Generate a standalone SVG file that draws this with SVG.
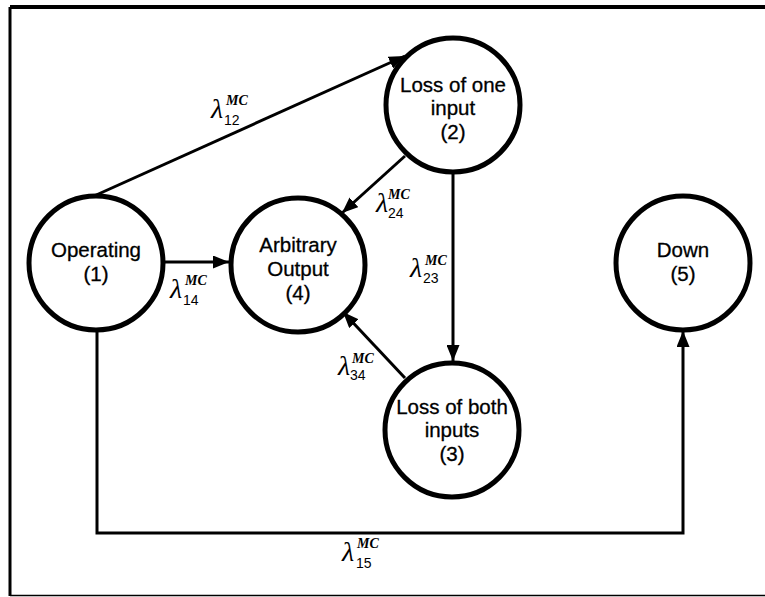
<svg xmlns="http://www.w3.org/2000/svg" width="765" height="597" viewBox="0 0 765 597">
<style>
.node{fill:#fff;stroke:#000;stroke-width:5}
.lbl{font-family:"Liberation Sans",Arial,sans-serif;font-size:20.5px;fill:#000;stroke:#000;stroke-width:0.3;text-anchor:middle}
.edge{fill:none;stroke:#000;stroke-width:3}
.lam{font-family:"Liberation Serif","Times New Roman",serif;font-style:italic;font-size:28px;fill:#000}
.sup{font-family:"Liberation Serif","Times New Roman",serif;font-style:italic;font-weight:bold;font-size:14px;fill:#000}
.sub{font-family:"Liberation Sans",Arial,sans-serif;font-size:14px;fill:#000}
</style>
<defs>
<marker id="ah" markerUnits="userSpaceOnUse" markerWidth="16" markerHeight="13" refX="16" refY="6.5" orient="auto">
<path d="M0,0 L16,6.5 L0,13 z" fill="#000"/>
</marker>
</defs>
<g id="frame">
<line x1="10" y1="7" x2="765" y2="7" stroke="#000" stroke-width="4"/>
<line x1="10" y1="7" x2="10" y2="596" stroke="#000" stroke-width="3"/>
<line x1="10" y1="595.5" x2="765" y2="595.5" stroke="#000" stroke-width="1.5"/>
</g>
<g id="connectors">
<line class="edge" x1="94" y1="196" x2="405" y2="56" marker-end="url(#ah)"/>
<line class="edge" x1="163" y1="262" x2="229" y2="262" marker-end="url(#ah)"/>
<line class="edge" x1="405" y1="156" x2="342" y2="213" marker-end="url(#ah)"/>
<line class="edge" x1="453" y1="172" x2="453" y2="361" marker-end="url(#ah)"/>
<line class="edge" x1="405" y1="378" x2="343" y2="312" marker-end="url(#ah)"/>
<polyline class="edge" points="97,330 97,533 683,533 683,331" marker-end="url(#ah)"/>
<g id="lab12"><text class="lam" x="211" y="118">λ</text><text class="sup" x="226" y="105">MC</text><text class="sub" x="224" y="125">12</text></g>
<g id="lab14"><text class="lam" x="170" y="298">λ</text><text class="sup" x="185" y="285">MC</text><text class="sub" x="183" y="305">14</text></g>
<g id="lab24"><text class="lam" x="376" y="212">λ</text><text class="sup" x="388" y="199">MC</text><text class="sub" x="388" y="218">24</text></g>
<g id="lab23"><text class="lam" x="410" y="277">λ</text><text class="sup" x="425" y="265">MC</text><text class="sub" x="423" y="283">23</text></g>
<g id="lab34"><text class="lam" x="338" y="375">λ</text><text class="sup" x="352" y="363">MC</text><text class="sub" x="350" y="380">34</text></g>
<g id="lab15"><text class="lam" x="342" y="561">λ</text><text class="sup" x="357" y="548">MC</text><text class="sub" x="356" y="568">15</text></g>
</g>
<g id="n1"><circle class="node" cx="96" cy="263" r="67"/><text class="lbl" x="96" y="257">Operating</text><text class="lbl" x="96" y="281">(1)</text></g>
<g id="n4"><circle class="node" cx="298" cy="265" r="67"/><text class="lbl" x="298" y="252">Arbitrary</text><text class="lbl" x="298" y="276">Output</text><text class="lbl" x="298" y="300">(4)</text></g>
<g id="n2"><circle class="node" cx="453" cy="105" r="67"/><text class="lbl" x="453" y="92">Loss of one</text><text class="lbl" x="453" y="115">input</text><text class="lbl" x="453" y="139">(2)</text></g>
<g id="n3"><circle class="node" cx="452" cy="430" r="67"/><text class="lbl" x="452" y="414">Loss of both</text><text class="lbl" x="452" y="437">inputs</text><text class="lbl" x="452" y="461">(3)</text></g>
<g id="n5"><circle class="node" cx="683" cy="263" r="67"/><text class="lbl" x="683" y="257">Down</text><text class="lbl" x="683" y="281">(5)</text></g>
</svg>
